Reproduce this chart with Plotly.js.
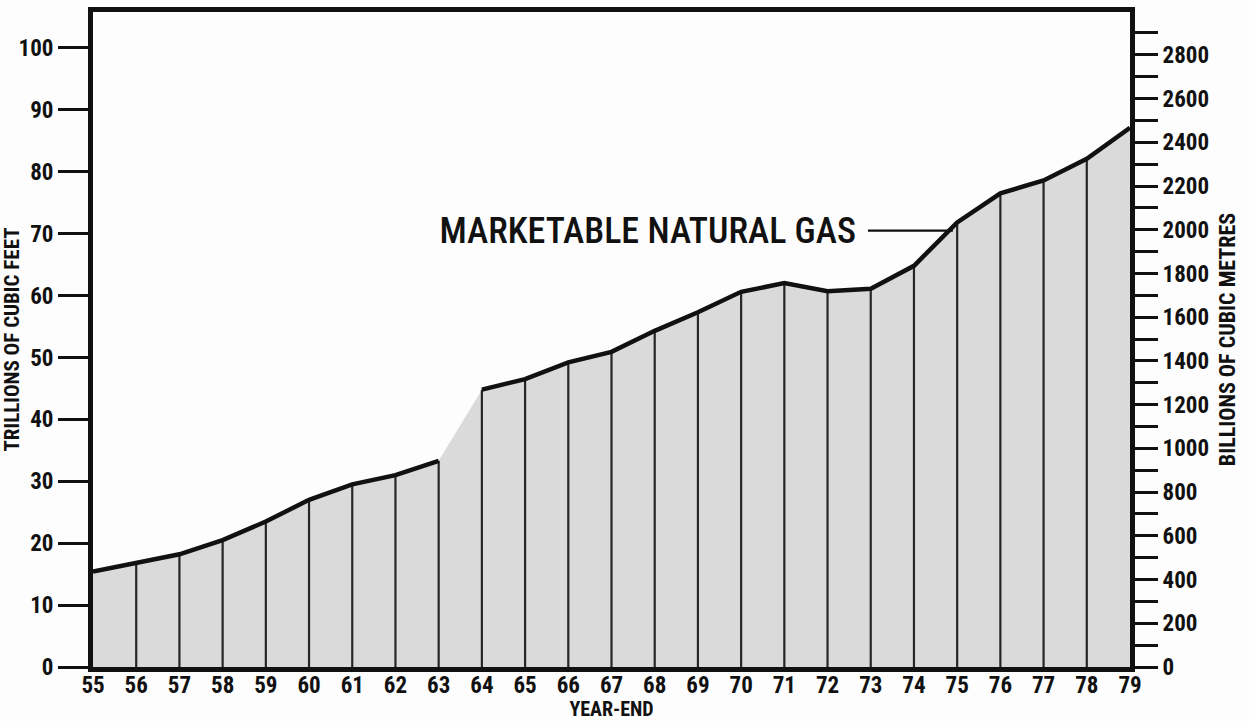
<!DOCTYPE html>
<html>
<head>
<meta charset="utf-8">
<script src="https://cdn.plot.ly/plotly-3.0.1.min.js"></script>
<style>
html,body{margin:0;padding:0;background:#fdfdfd;}
#chart{width:1249px;height:721px;}
#chart svg text{font-stretch:condensed !important;}
</style>
</head>
<body>
<div id="chart"></div>
<script>
// Year-end (two-digit years, 1955-1979)
const years = [55,56,57,58,59,60,61,62,63,64,65,66,67,68,69,70,71,72,73,74,75,76,77,78,79];
// Marketable natural gas, trillions of cubic feet
const gasTcf = [15.4,16.8,18.2,20.5,23.5,27.0,29.5,31.0,33.3,44.8,46.5,49.2,50.9,54.3,57.3,60.6,62.0,60.7,61.1,64.8,71.8,76.5,78.6,82.1,87.1];
// the outline is broken after this year
const breakAfterYear = 63;
const yearLabels = years.map(y => String(y));
const leftTicks = [0,10,20,30,40,50,60,70,80,90,100];
const rightMajorTicks = [0,200,400,600,800,1000,1200,1400,1600,1800,2000,2200,2400,2600,2800];
const bcmPerTcf = 28.3168;

const FONT = "Roboto, 'Liberation Sans', sans-serif";
const INK = '#111111';
const yMax = 105.8;

// vertical year rules (interior years)
const vx = [], vy = [];
years.forEach((yr, i) => {
  if (i === 0 || i === years.length - 1) return;
  vx.push(yr, yr, null);
  vy.push(0, gasTcf[i], null);
});

const seg1x = [], seg1y = [], seg2x = [], seg2y = [];
years.forEach((yr, i) => {
  if (yr <= breakAfterYear) { seg1x.push(yr); seg1y.push(gasTcf[i]); }
  else { seg2x.push(yr); seg2y.push(gasTcf[i]); }
});

const traces = [
  {x: years, y: gasTcf, type: 'scatter', mode: 'lines', fill: 'tozeroy',
   fillcolor: '#dadada', line: {width: 0, color: '#dadada'}, hoverinfo: 'skip', showlegend: false},
  {x: vx, y: vy, type: 'scatter', mode: 'lines', line: {width: 2.2, color: '#262626'},
   hoverinfo: 'skip', showlegend: false},
  {x: seg1x, y: seg1y, type: 'scatter', mode: 'lines', line: {width: 4.5, color: INK},
   showlegend: false},
  {x: seg2x, y: seg2y, type: 'scatter', mode: 'lines', line: {width: 4.5, color: INK},
   showlegend: false},
  // invisible trace to activate right axis
  {x: [years[0]], y: [0], yaxis: 'y2', type: 'scatter', mode: 'markers',
   marker: {opacity: 0}, hoverinfo: 'skip', showlegend: false}
];

const layout = {
  width: 1249, height: 721,
  margin: {l: 93, r: 119, t: 12, b: 54},
  paper_bgcolor: '#fdfdfd',
  plot_bgcolor: '#fdfdfd',
  font: {family: FONT, color: INK, size: 22},
  showlegend: false,
  xaxis: {
    range: [years[0], years[years.length - 1]],
    tickvals: years, ticktext: yearLabels,
    ticks: '', ticklen: 0, ticklabelstandoff: -7,
    showgrid: false, zeroline: false,
    showline: true, linewidth: 5, linecolor: INK, mirror: true,
    tickfont: {family: FONT, size: 23, weight: 'bold', color: INK},
    title: {text: 'YEAR-END', standoff: 6, font: {family: FONT, size: 20, weight: 'bold', color: INK}}
  },
  yaxis: {
    range: [0, yMax],
    tickvals: leftTicks,
    ticks: 'outside', ticklen: 30, tickwidth: 3, tickcolor: INK,
    showgrid: false, zeroline: false,
    showline: true, linewidth: 5, linecolor: INK, mirror: true,
    tickfont: {family: FONT, size: 23, weight: 'bold', color: INK},
    title: {text: 'TRILLIONS OF CUBIC FEET', standoff: 1, font: {family: FONT, size: 21, weight: 'bold', color: INK}}
  },
  yaxis2: {
    overlaying: 'y', side: 'right',
    range: [0, yMax * bcmPerTcf],
    tickvals: rightMajorTicks,
    ticks: 'outside', ticklen: 27, tickwidth: 3, tickcolor: INK,
    minor: {dtick: 100, ticks: 'outside', ticklen: 27, tickwidth: 3, tickcolor: INK, showgrid: false},
    showgrid: false, zeroline: false, showline: false,
    tickfont: {family: FONT, size: 23, weight: 'bold', color: INK},
    title: {text: 'BILLIONS OF CUBIC METRES', standoff: 4, font: {family: FONT, size: 22, weight: 'bold', color: INK}}
  },
  annotations: [
    {
      x: 67.85, y: 70.5, xref: 'x', yref: 'y',
      xanchor: 'center', yanchor: 'middle',
      text: 'MARKETABLE NATURAL GAS',
      showarrow: false,
      font: {family: FONT, size: 36, weight: 500, color: INK}
    },
    {
      x: 74.9, y: 70.5, xref: 'x', yref: 'y',
      axref: 'x', ayref: 'y', ax: 72.9, ay: 70.5,
      text: '', showarrow: true, arrowhead: 0, arrowwidth: 2.2, arrowcolor: INK,
      standoff: 0, startstandoff: 0
    }
  ]
};

Plotly.newPlot('chart', traces, layout, {staticPlot: true});
</script>
</body>
</html>
